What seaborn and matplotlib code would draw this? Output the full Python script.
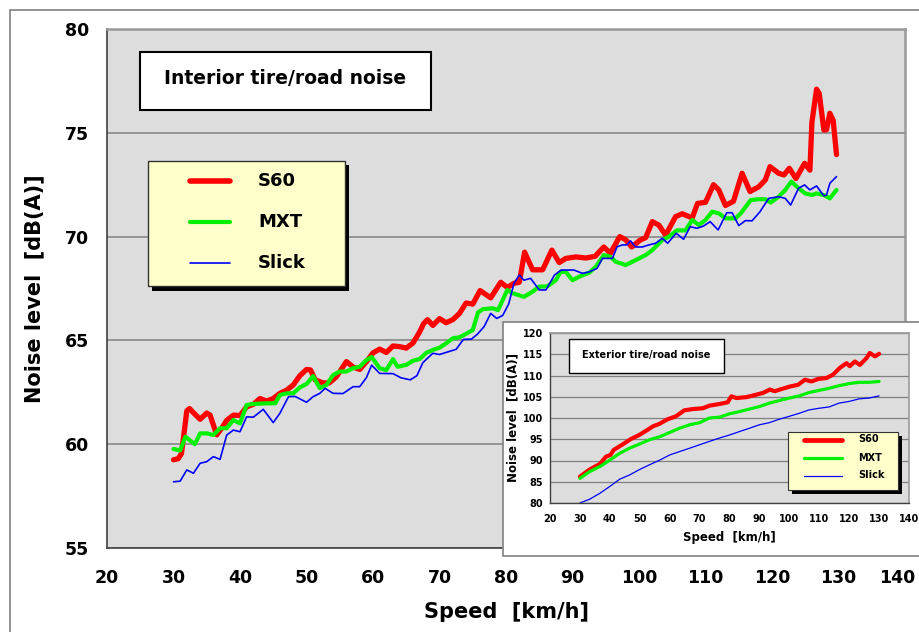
import matplotlib
matplotlib.use("Agg")
import matplotlib.pyplot as plt
import matplotlib.transforms as mtransforms
import seaborn as sns
import pandas as pd
from matplotlib.patches import Rectangle
from matplotlib.lines import Line2D

# ---------------- data ----------------
series_names = ["S60", "MXT", "Slick"]

# main chart: interior noise
s60_speed = [30.0, 30.7, 31.2, 32.0, 32.4, 33.2, 34.0, 35.0, 35.5, 36.5, 37.2, 38.0, 39.0, 40.0,
             41.0, 42.0, 43.0, 44.0, 45.0, 46.0, 47.0, 48.0, 49.0, 50.0, 50.6, 51.3, 52.5, 53.4,
             54.5, 56.0, 57.0, 58.0, 59.0, 60.0, 61.0, 62.0, 63.0, 64.0, 65.0, 66.0, 67.0, 67.6,
             68.2, 69.0, 70.0, 71.0, 72.0, 73.0, 74.0, 75.0, 76.1, 77.7, 79.2, 80.2, 81.2, 82.0,
             82.8, 84.0, 85.5, 86.9, 88.0, 89.0, 90.5, 92.0, 93.4, 94.7, 95.7, 97.1, 98.0, 98.9,
             100.2, 101.0, 102.0, 103.0, 104.0, 105.5, 106.5, 108.0, 108.8, 110.0, 111.2, 112.0,
             113.0, 114.2, 115.5, 116.7, 118.0, 119.0, 119.7, 121.0, 121.8, 122.6, 123.6, 124.9,
             125.7, 126.0, 126.7, 127.1, 127.8, 128.2, 128.7, 129.2, 129.7]
s60_level = [59.25, 59.3, 59.55, 61.6, 61.72, 61.45, 61.2, 61.5, 61.4, 60.45, 60.75, 61.15, 61.4, 61.38,
             61.8, 61.92, 62.2, 62.08, 62.2, 62.45, 62.6, 62.85, 63.3, 63.6, 63.58, 63.1, 62.95, 62.95,
             63.25, 63.98, 63.72, 63.6, 63.97, 64.4, 64.58, 64.42, 64.73, 64.7, 64.63, 64.87, 65.4, 65.8,
             66.0, 65.72, 66.05, 65.85, 66.0, 66.3, 66.8, 66.75, 67.4, 67.05, 67.8, 67.55, 67.75, 67.8,
             69.25, 68.4, 68.4, 69.35, 68.75, 68.95, 69.02, 68.97, 69.05, 69.5, 69.2, 70.0, 69.85, 69.5,
             69.84, 69.95, 70.72, 70.55, 70.07, 70.96, 71.1, 70.9, 71.6, 71.65, 72.5, 72.25,
             71.5, 71.7, 73.05, 72.17, 72.4, 72.73, 73.37, 73.05, 72.97, 73.29, 72.8, 73.53,
             73.2, 75.5, 77.1, 76.9, 75.13, 75.15, 75.94, 75.6, 73.95]

mxt_speed = [30.0, 31.0, 31.8, 33.2, 34.0, 35.0, 36.0, 37.0, 38.0, 39.0, 40.0, 41.0, 42.0, 44.0,
             45.3, 46.0, 47.0, 48.0, 49.0, 50.0, 51.0, 52.0, 53.0, 54.0, 55.0, 56.0, 57.0, 58.0,
             59.0, 59.8, 61.0, 62.0, 63.0, 63.7, 65.0, 66.0, 67.0, 68.0, 69.0, 70.0, 71.0, 72.0,
             73.0, 74.0, 75.0, 75.8, 76.5, 78.0, 78.8, 79.5, 80.2, 81.0, 82.7, 84.0, 85.0, 86.2,
             87.5, 88.2, 89.0, 90.0, 91.0, 92.5, 93.5, 94.7, 95.7, 96.5, 98.0, 99.0, 100.0, 101.0,
             102.0, 103.5, 104.5, 105.7, 107.0, 108.0, 109.0, 110.0, 111.0, 112.0, 113.0, 114.5,
             115.3, 116.8, 118.0, 119.0, 119.8, 121.0, 122.0, 122.9, 124.0, 125.0, 126.0, 126.7,
             127.8, 128.7, 129.7]
mxt_level = [59.77, 59.7, 60.36, 60.0, 60.52, 60.52, 60.44, 60.77, 60.77, 61.17, 61.0, 61.89, 61.94, 61.97,
             61.97, 62.37, 62.45, 62.45, 62.74, 62.9, 63.28, 62.7, 62.85, 63.33, 63.5, 63.5, 63.66, 63.73,
             64.05, 64.2, 63.66, 63.57, 64.1, 63.73, 63.82, 64.02, 64.1, 64.4, 64.54, 64.65, 64.86, 65.1,
             65.15, 65.32, 65.5, 66.35, 66.5, 66.55, 66.46, 66.95, 67.43, 67.27, 67.1, 67.35, 67.59, 67.6,
             67.9, 68.3, 68.3, 67.9, 68.07, 68.26, 68.55, 69.11, 69.03, 68.79, 68.63, 68.79, 68.95, 69.11,
             69.35, 69.84, 70.0, 70.3, 70.3, 70.8, 70.56, 70.8, 71.2, 71.12, 70.88, 70.88,
             71.12, 71.76, 71.8, 71.8, 71.64, 71.92, 72.25, 72.65, 72.33, 72.08, 72.0, 72.08,
             72.0, 71.84, 72.25]

slick_speed = [30.0, 31.0, 32.0, 33.0, 34.0, 35.0, 36.0, 37.0, 38.0, 39.0, 40.0, 41.0, 42.0, 43.5,
               45.0, 46.0, 47.3, 48.3, 50.0, 51.0, 52.0, 52.8, 54.0, 55.5, 57.0, 58.0, 59.0, 59.8,
               61.0, 63.0, 64.2, 65.6, 66.6, 67.5, 69.0, 70.0, 71.2, 72.5, 73.6, 74.8, 75.7, 76.7,
               77.7, 78.6, 79.5, 80.4, 81.2, 82.0, 82.7, 83.7, 85.0, 86.0, 87.3, 88.3, 90.2, 91.5,
               92.5, 93.7, 94.5, 96.0, 96.7, 97.5, 98.2, 98.7, 99.5, 100.5, 101.5, 102.5, 103.5, 104.3,
               105.6, 106.7, 107.7, 108.7, 109.7, 110.7, 111.9, 113.2, 114.0, 115.0, 116.0, 117.0,
               118.2, 119.5, 121.0, 122.0, 122.8, 124.0, 124.9, 125.7, 126.7, 127.8, 128.2, 128.7, 129.7]
slick_level = [58.19, 58.22, 58.76, 58.6, 59.08, 59.16, 59.4, 59.27, 60.44, 60.68, 60.6, 61.32, 61.3, 61.68,
               61.04, 61.49, 62.29, 62.3, 62.02, 62.29, 62.45, 62.69, 62.45, 62.44, 62.77, 62.77, 63.2, 63.81,
               63.41, 63.4, 63.2, 63.1, 63.3, 63.93, 64.38, 64.32, 64.44, 64.57, 65.05, 65.06, 65.3, 65.66,
               66.3, 66.06, 66.2, 66.75, 67.75, 68.15, 67.9, 67.99, 67.43, 67.43, 68.15, 68.39, 68.39, 68.23,
               68.3, 68.47, 68.95, 68.95, 69.51, 69.6, 69.6, 69.8, 69.5, 69.5, 69.6, 69.68, 69.92, 69.68,
               70.16, 69.87, 70.48, 70.4, 70.51, 70.72, 70.32, 71.15, 71.15, 70.53, 70.77, 70.76,
               71.2, 71.84, 71.92, 71.84, 71.52, 72.33, 72.49, 72.25, 72.44, 71.96, 72.0, 72.57, 72.89]

# inset: exterior noise
ext_s60_speed = [30.0, 33.3, 36.7, 38.7, 40.2, 41.3, 44.1, 46.9, 49.8, 52.6, 54.3, 56.5, 59.3, 62.1,
                 64.9, 67.7, 71.1, 73.3, 76.7, 79.4, 80.6, 82.3, 85.6, 89.0, 91.2, 93.5, 95.1, 97.3,
                 100.2, 102.9, 105.2, 107.4, 109.7, 112.4, 114.6, 116.9, 119.1, 120.2, 121.9, 123.6,
                 125.8, 126.9, 128.6, 130.0]
ext_s60_level = [86.2, 87.9, 89.2, 90.9, 91.3, 92.5, 93.7, 95.0, 96.0, 97.2, 98.0, 98.6, 99.7, 100.4,
                 101.8, 102.1, 102.3, 102.9, 103.3, 103.7, 105.1, 104.7, 104.9, 105.5, 105.9, 106.7, 106.3, 106.8,
                 107.4, 107.8, 109.0, 108.6, 109.2, 109.4, 110.2, 111.8, 112.9, 112.2, 113.3, 112.5,
                 114.1, 115.3, 114.5, 115.1]
ext_mxt_speed = [30.0, 33.3, 36.7, 40.0, 43.3, 46.6, 50.0, 53.3, 56.7, 60.0, 63.3, 66.7, 70.0, 73.3,
                 76.7, 80.0, 83.3, 86.7, 90.0, 93.3, 96.6, 100.0, 103.3, 106.6, 110.0, 113.3, 116.6,
                 120.0, 123.3, 126.7, 130.0]
ext_mxt_level = [85.8, 87.4, 88.6, 90.1, 91.7, 92.9, 93.9, 94.9, 95.6, 96.6, 97.6, 98.4, 98.9, 100.0,
                 100.2, 101.0, 101.5, 102.1, 102.7, 103.5, 104.1, 104.7, 105.2, 106.0, 106.5, 107.0, 107.6,
                 108.1, 108.4, 108.4, 108.6]
ext_slick_speed = [30.0, 33.3, 36.7, 40.0, 43.3, 46.6, 50.0, 53.3, 56.7, 60.0, 63.3, 66.7, 70.0, 73.3,
                   76.7, 80.0, 83.3, 86.7, 90.0, 93.3, 96.6, 100.0, 103.3, 106.6, 110.0, 113.3, 116.6,
                   120.0, 123.3, 126.7, 130.0]
ext_slick_level = [80.0, 80.9, 82.3, 83.9, 85.6, 86.6, 87.9, 89.0, 90.1, 91.3, 92.1, 92.9, 93.7, 94.5,
                   95.3, 96.0, 96.8, 97.6, 98.4, 98.9, 99.7, 100.4, 101.1, 101.9, 102.3, 102.6, 103.5,
                   103.9, 104.5, 104.7, 105.2]

main_title = "Interior tire/road noise"
inset_title = "Exterior tire/road noise"
main_xticks = [20, 30, 40, 50, 60, 70, 80, 90, 100, 110, 120, 130, 140]
main_yticks = [55, 60, 65, 70, 75, 80]
inset_yticks = [80, 85, 90, 95, 100, 105, 110, 115, 120]

# ---------------- styling ----------------
sns.set_style("white")
plt.rcParams["font.family"] = ["DejaVu Sans"]
plt.rcParams["font.weight"] = "bold"
plt.rcParams["text.color"] = "black"
plt.rcParams["axes.labelcolor"] = "black"
plt.rcParams["xtick.color"] = "black"
plt.rcParams["ytick.color"] = "black"

colors = {"S60": "#FF0000", "MXT": "#00F000", "Slick": "#0000FF"}
main_widths = {"S60": 3.8, "MXT": 3.0, "Slick": 1.2}
inset_widths = {"S60": 3.0, "MXT": 2.3, "Slick": 0.9}
BG = "#DDDDDD"

W, H = 919, 632
fig = plt.figure(figsize=(W / 100, H / 100), dpi=100)
fig.patch.set_facecolor("white")


def fx(px):
    return px / W


def fy(py):
    return 1 - py / H


def frect(x0, y0, x1, y1, **kw):
    r = Rectangle((fx(x0), fy(y1)), fx(x1) - fx(x0), fy(y0) - fy(y1),
                  transform=fig.transFigure, **kw)
    fig.add_artist(r)
    return r


def long_df(speeds, levels):
    frames = []
    for name, s, v in zip(series_names, speeds, levels):
        frames.append(pd.DataFrame({"speed": s, "level": v, "tire": name}))
    return pd.concat(frames, ignore_index=True)


# outer frame
frect(10, 10, 960, 700, facecolor="none", edgecolor="#808080", linewidth=1.2, zorder=0.5)

# ---------------- main axes ----------------
ax = fig.add_axes([fx(107), fy(548), fx(905) - fx(107), (548 - 29) / H])
ax.set_facecolor(BG)
df_main = long_df([s60_speed, mxt_speed, slick_speed], [s60_level, mxt_level, slick_level])
sns.lineplot(data=df_main, x="speed", y="level", hue="tire", size="tire",
             hue_order=series_names, palette=colors, sizes=main_widths,
             estimator=None, sort=False, legend=False, ax=ax,
             solid_joinstyle="round", solid_capstyle="round")
ax.set_xlim(20, 140)
ax.set_ylim(55, 80)
ax.set_xticks(main_xticks)
ax.set_yticks(main_yticks)
ax.set_axisbelow(True)
ax.grid(axis="y", color="#808080", linewidth=1.1)
ax.grid(axis="x", visible=False)
for side in ["top", "right"]:
    ax.spines[side].set_color("#9a9a9a")
    ax.spines[side].set_linewidth(1.8)
for side in ["left", "bottom"]:
    ax.spines[side].set_color("#404040")
    ax.spines[side].set_linewidth(1.2)
ax.tick_params(axis="both", direction="out", length=4, width=1, color="#404040",
               labelsize=12.5, labelcolor="black")
ax.tick_params(axis="x", pad=11)
ax.tick_params(axis="y", pad=9)
for lab in ax.get_xticklabels() + ax.get_yticklabels():
    lab.set_fontweight("bold")
# the last x label sits against the right figure edge, as in the reference
last = ax.get_xticklabels()[-1]
last.set_transform(last.get_transform() +
                   mtransforms.ScaledTranslation(-8 / 100, 0, fig.dpi_scale_trans))
ax.set_xlabel("Speed  [km/h]", fontsize=15, fontweight="bold", color="black")
ax.set_ylabel("Noise level  [dB(A)]", fontsize=15, fontweight="bold", color="black")
ax.xaxis.set_label_coords(0.5, -0.104)
ax.yaxis.set_label_coords(-0.079, 0.5)

# title box
frect(140, 52, 431, 110, facecolor="white", edgecolor="black", linewidth=1.5, zorder=2)
fig.text(fx(285.5), fy(79), main_title, ha="center", va="center", fontsize=13.5,
         fontweight="bold", color="black", zorder=3)

# legend box with shadow
frect(152, 165, 349, 291, facecolor="black", edgecolor="none", zorder=2)
frect(148, 161, 345, 286, facecolor="#FFFFCC", edgecolor="#333333", linewidth=1, zorder=2.1)
for name, py in zip(series_names, [181, 222, 263]):
    fig.add_artist(Line2D([fx(190), fx(230)], [fy(py), fy(py)], transform=fig.transFigure,
                          color=colors[name], linewidth=main_widths[name] if name != "S60" else 4.0,
                          solid_capstyle="round", zorder=2.5))
    fig.text(fx(258), fy(py), name, ha="left", va="center", fontsize=13,
             fontweight="bold", color="black", zorder=3)

# ---------------- inset ----------------
frect(503, 322, 960, 556, facecolor="white", edgecolor="#808080", linewidth=1.2, zorder=4)
ax2 = fig.add_axes([fx(550), fy(503), (909 - 550) / W, (503 - 333) / H])
ax2.set_zorder(5)
ax2.set_facecolor(BG)
df_ext = long_df([ext_s60_speed, ext_mxt_speed, ext_slick_speed],
                 [ext_s60_level, ext_mxt_level, ext_slick_level])
sns.lineplot(data=df_ext, x="speed", y="level", hue="tire", size="tire",
             hue_order=series_names, palette=colors, sizes=inset_widths,
             estimator=None, sort=False, legend=False, ax=ax2,
             solid_joinstyle="round", solid_capstyle="round")
ax2.set_xlim(20, 140)
ax2.set_ylim(80, 120)
ax2.set_xticks(main_xticks)
ax2.set_yticks(inset_yticks)
ax2.set_axisbelow(True)
ax2.grid(axis="y", color="#808080", linewidth=0.9)
ax2.grid(axis="x", visible=False)
for side in ["top", "right"]:
    ax2.spines[side].set_color("#9a9a9a")
    ax2.spines[side].set_linewidth(1.2)
for side in ["left", "bottom"]:
    ax2.spines[side].set_color("#404040")
    ax2.spines[side].set_linewidth(1.0)
ax2.tick_params(axis="both", direction="out", length=3, width=0.8, color="#404040",
                labelsize=7, labelcolor="black")
ax2.tick_params(axis="x", pad=5)
ax2.tick_params(axis="y", pad=2)
for lab in ax2.get_xticklabels() + ax2.get_yticklabels():
    lab.set_fontweight("bold")
ax2.set_xlabel("Speed  [km/h]", fontsize=8.5, fontweight="bold", color="black")
ax2.set_ylabel("Noise level  [dB(A)]", fontsize=8.5, fontweight="bold", color="black")
ax2.xaxis.set_label_coords(0.5, -0.165)
ax2.yaxis.set_label_coords(-0.086, 0.5)

# inset title box
frect(569, 339, 724, 373, facecolor="white", edgecolor="black", linewidth=1.0, zorder=6)
fig.text(fx(646), fy(355), inset_title, ha="center", va="center", fontsize=7,
         fontweight="bold", color="black", zorder=7)

# inset legend with shadow
frect(792, 436, 902, 494, facecolor="black", edgecolor="none", zorder=6)
frect(788, 432, 898, 490, facecolor="#FFFFCC", edgecolor="#333333", linewidth=0.8, zorder=6.1)
for name, py in zip(series_names, [439.5, 458, 475.5]):
    fig.add_artist(Line2D([fx(804), fx(842)], [fy(py), fy(py)], transform=fig.transFigure,
                          color=colors[name], linewidth=inset_widths[name] if name != "S60" else 3.4,
                          solid_capstyle="round", zorder=6.5))
    fig.text(fx(858), fy(py), name, ha="left", va="center", fontsize=7,
             fontweight="bold", color="black", zorder=7)

fig.savefig("out.png", dpi=100, facecolor="white")
